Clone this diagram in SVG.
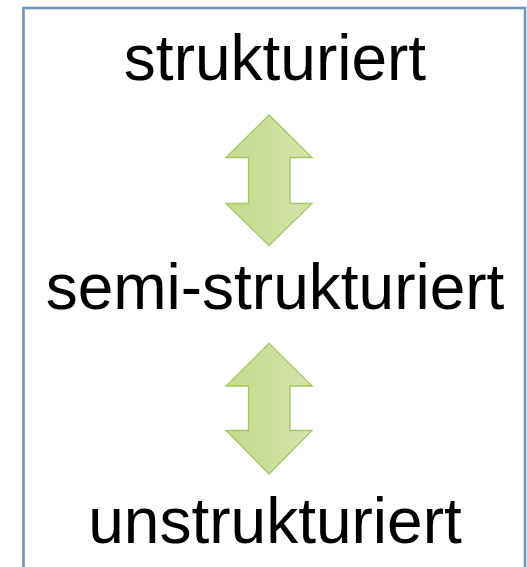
<svg xmlns="http://www.w3.org/2000/svg" width="527" height="567" viewBox="0 0 527 567">
  <defs>
    <linearGradient id="arrowFill" x1="0" y1="0" x2="1" y2="0">
      <stop offset="0" stop-color="#c4da8c"/>
      <stop offset="1" stop-color="#d5e4aa"/>
    </linearGradient>
    <style>
      .frame { fill: #ffffff; stroke: #6f94bb; stroke-width: 2.6; }
      .label { font-family: "Liberation Sans", Arial, sans-serif; font-size: 64px; fill: #000000; text-anchor: middle; }
      .dblarrow { fill: url(#arrowFill); stroke: #a5c762; stroke-width: 1.3; stroke-linejoin: miter; }
    </style>
  </defs>

  <rect width="527" height="567" fill="#ffffff"/>
  <rect class="frame" x="23.5" y="8" width="501.5" height="620"/>

  <g id="node-strukturiert">
    <text class="label" x="275" y="79.5">strukturiert</text>
  </g>
  <g id="node-semi-strukturiert">
    <text class="label" x="275" y="308.5">semi-strukturiert</text>
  </g>
  <g id="node-unstrukturiert">
    <text class="label" x="275" y="542.5">unstrukturiert</text>
  </g>

  <g id="connectors">
    <polygon class="dblarrow" points="269,115 226,157.5 248.5,157.5 248.5,203.5 226,203.5 269,245.5 312,203.5 290,203.5 290,157.5 312,157.5"/>
    <polygon class="dblarrow" points="269,343.5 226,386 248.5,386 248.5,430.5 226,430.5 269,474 312,430.5 290,430.5 290,386 312,386"/>
  </g>
</svg>
